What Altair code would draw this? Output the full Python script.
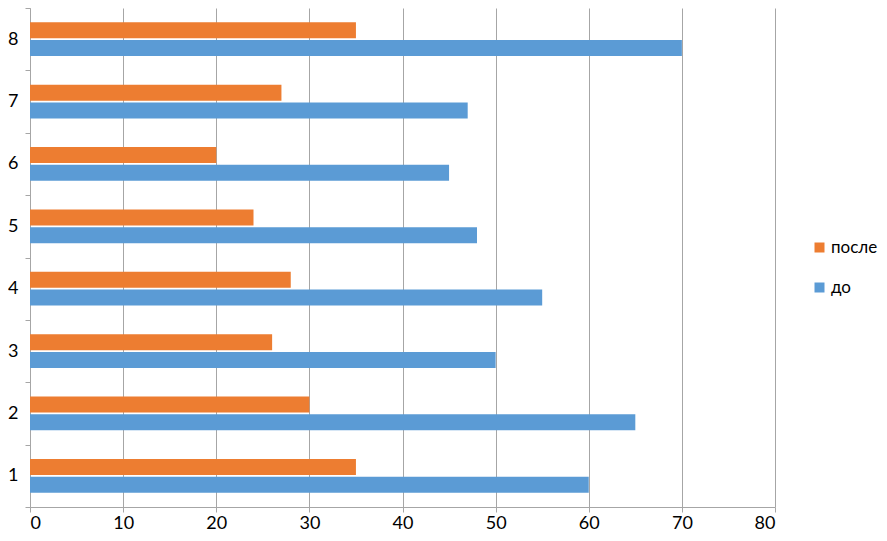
import altair as alt
import pandas as pd

categories = ["1", "2", "3", "4", "5", "6", "7", "8"]
do_values = [60, 65, 50, 55, 48, 45, 47, 70]
posle_values = [35, 30, 26, 28, 24, 20, 27, 35]
series_names = ["после", "до"]
colors = ["#ED7D31", "#5B9BD5"]

rows = []
for c, d, p in zip(categories, do_values, posle_values):
    rows.append({"cat": c, "series": "после", "value": p})
    rows.append({"cat": c, "series": "до", "value": d})
df = pd.DataFrame(rows)

font = "Lato"

chart = alt.Chart(df).mark_bar().encode(
    x=alt.X("value:Q",
            scale=alt.Scale(domain=[0, 80], nice=False),
            axis=alt.Axis(title=None, values=list(range(0, 81, 10)), grid=True,
                          gridColor="#A6A6A6", gridWidth=1,
                          domainColor="#A6A6A6", tickColor="#A6A6A6", tickSize=5,
                          labelFont=font, labelFontSize=18, labelColor="#000000",
                          labelPadding=2)),
    y=alt.Y("cat:N", sort=categories[::-1],
            scale=alt.Scale(paddingInner=0, paddingOuter=0),
            axis=alt.Axis(title=None, tickBand="extent", grid=False,
                          domainColor="#A6A6A6", tickColor="#A6A6A6", tickSize=5,
                          labelFont=font, labelFontSize=18, labelColor="#000000",
                          labelPadding=7)),
    yOffset=alt.YOffset("series:N", sort=series_names,
                        scale=alt.Scale(paddingInner=0.1, paddingOuter=0.8)),
    color=alt.Color("series:N",
                    scale=alt.Scale(domain=series_names, range=colors),
                    legend=alt.Legend(title=None, orient="none", legendX=781, legendY=231,
                                      padding=0, symbolType="square", symbolSize=100,
                                      labelOffset=3,
                                      labelFont=font, labelFontSize=17, labelColor="#000000",
                                      rowPadding=22, symbolStrokeWidth=0)),
).properties(
    width=745, height=499,
    autosize=alt.AutoSizeParams(type="none"),
    padding={"left": 22, "top": 0, "right": 104, "bottom": 26}
).configure_view(stroke=None)

chart.save("out.html", embed_options={"renderer": "svg", "actions": False})
